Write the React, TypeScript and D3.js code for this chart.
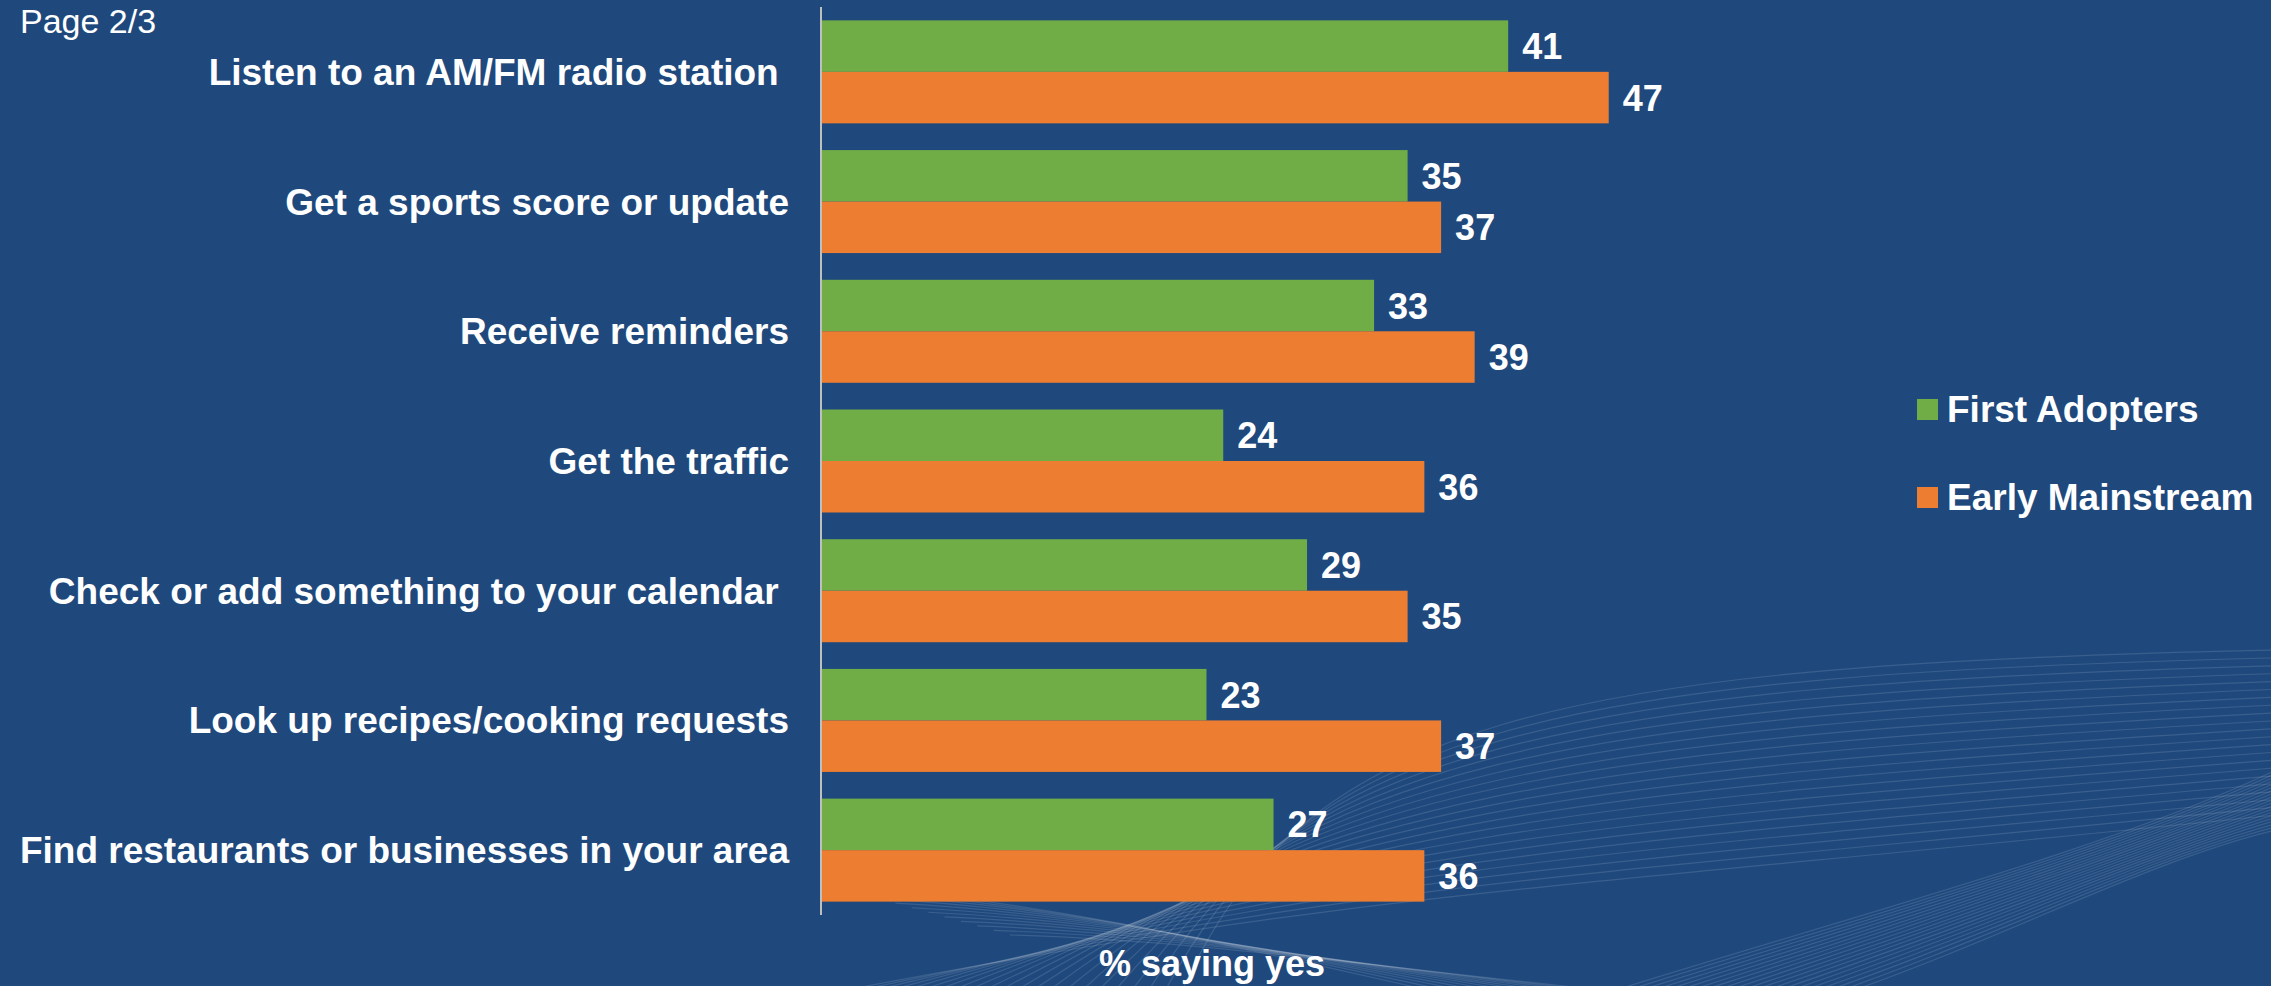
import React from "react";
import * as d3 from "d3";

const categories = [
  "Listen to an AM/FM radio station ",
  "Get a sports score or update",
  "Receive reminders",
  "Get the traffic",
  "Check or add something to your calendar ",
  "Look up recipes/cooking requests",
  "Find restaurants or businesses in your area",
];
const seriesNames = ["First Adopters", "Early Mainstream"];
const firstAdopters = [41, 35, 33, 24, 29, 23, 27];
const earlyMainstream = [47, 37, 39, 36, 35, 37, 36];
const seriesColors = ["#70AD47", "#ED7D31"];
const axisTitle = "% saying yes";
const pageLabel = "Page 2/3";

const W = 2271;
const H = 986;
const FONT = "'Liberation Sans', Arial, Helvetica, sans-serif";

function wavePaths() {
  // decorative background wave lines (not data)
  const paths: string[] = [];
  const nA = 22;
  for (let i = 0; i < nA; i++) {
    const t = i / (nA - 1);
    const p = d3.path();
    p.moveTo(1180 - 360 * t, 995);
    p.bezierCurveTo(1300 + 60 * t, 720 + 170 * t, 1550, 665 + 225 * t, W + 5, 650 + 165 * t);
    paths.push(p.toString());
  }
  const nB = 20;
  for (let i = 0; i < nB; i++) {
    const t = i / (nB - 1);
    const p = d3.path();
    p.moveTo(1600 + 240 * t, 995);
    p.bezierCurveTo(1820 + 180 * t, 925 + 15 * t, 2110 + 40 * t, 850 + 10 * t, W + 5, 770 + 60 * t);
    paths.push(p.toString());
  }
  const nC = 12;
  for (let i = 0; i < nC; i++) {
    const t = i / (nC - 1);
    const p = d3.path();
    p.moveTo(830 + 180 * t, 885 + 50 * t);
    p.bezierCurveTo(1050 + 150 * t, 900 + 40 * t, 1250 + 150 * t, 950 + 20 * t, 1450 + 200 * t, 995);
    paths.push(p.toString());
  }
  return paths;
}

export default function App() {
  const y = d3
    .scaleBand<string>()
    .domain(categories)
    .range([7, 915])
    .paddingInner(0.206)
    .paddingOuter(0.103);
  const inner = d3
    .scaleBand<string>()
    .domain(seriesNames)
    .range([0, y.bandwidth()])
    .padding(0);
  const x = d3.scaleLinear().domain([0, 50]).range([821, 821 + 16.76 * 50]);
  const seriesData = [firstAdopters, earlyMainstream];
  const waves = wavePaths();

  return (
    <svg
      width={W}
      height={H}
      style={{ position: "absolute", left: 0, top: 0, display: "block" }}
      fontFamily={FONT}
    >
      <rect x={0} y={0} width={W} height={H} fill="#1F497D" />
      <g fill="none" stroke="#FFFFFF" strokeOpacity={0.12} strokeWidth={1.2}>
        {waves.map((d, i) => (
          <path key={i} d={d} />
        ))}
      </g>

      <text x={20} y={33} fontSize={34} fill="#FFFFFF">
        {pageLabel}
      </text>

      {categories.map((c, ci) => (
        <g key={c}>
          <text
            x={789}
            y={(y(c) as number) + y.bandwidth() / 2 + 13}
            textAnchor="end"
            fontSize={37}
            fontWeight="bold"
            fill="#FFFFFF"
            style={{ whiteSpace: "pre" }}
          >
            {c}
          </text>
          {seriesNames.map((s, si) => {
            const v = seriesData[si][ci];
            const by = (y(c) as number) + (inner(s) as number);
            const bh = inner.bandwidth();
            return (
              <g key={s}>
                <rect
                  x={x(0)}
                  y={by}
                  width={x(v) - x(0)}
                  height={bh}
                  fill={seriesColors[si]}
                />
                <text
                  x={x(v) + 14}
                  y={by + bh / 2 + 13}
                  fontSize={36}
                  fontWeight="bold"
                  fill="#FFFFFF"
                >
                  {v}
                </text>
              </g>
            );
          })}
        </g>
      ))}

      <line x1={x(0)} x2={x(0)} y1={7} y2={915} stroke="#BFBFBF" strokeWidth={2} />

      <text
        x={1212}
        y={976}
        textAnchor="middle"
        fontSize={36}
        fontWeight="bold"
        fill="#FFFFFF"
      >
        {axisTitle}
      </text>

      {seriesNames.map((s, si) => (
        <g key={s}>
          <rect x={1917} y={399 + si * 88} width={21} height={21} fill={seriesColors[si]} />
          <text x={1947} y={422 + si * 88} fontSize={37} fontWeight="bold" fill="#FFFFFF">
            {s}
          </text>
        </g>
      ))}
    </svg>
  );
}
